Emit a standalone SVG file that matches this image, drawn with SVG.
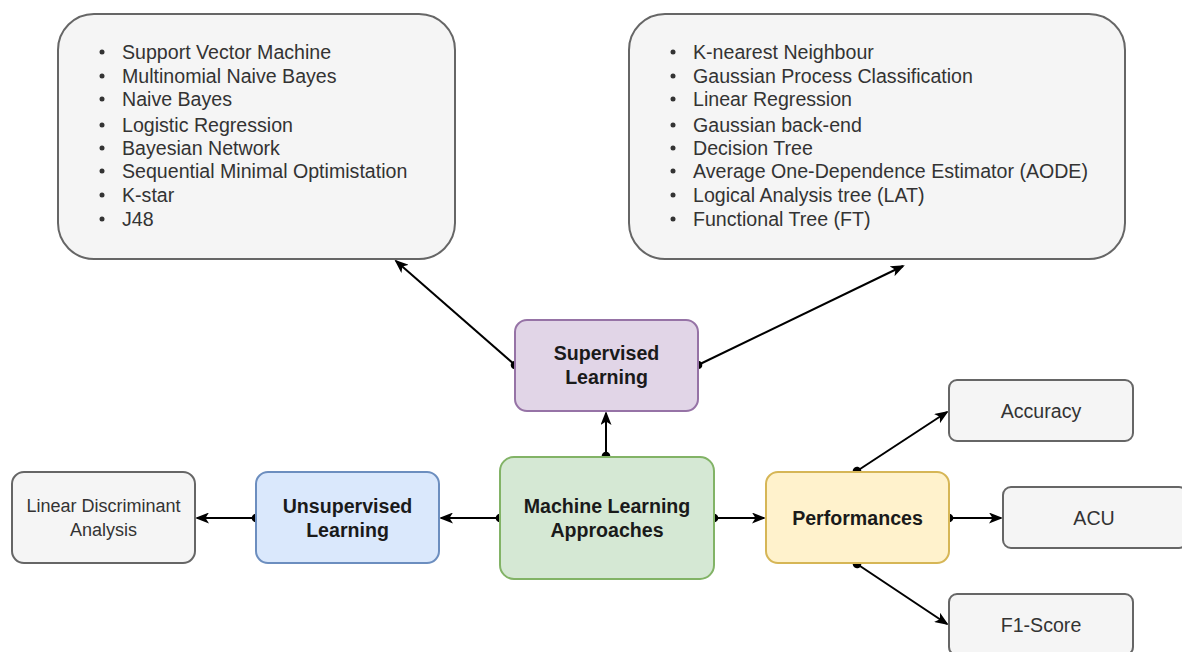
<svg xmlns="http://www.w3.org/2000/svg" width="1182" height="652" viewBox="0 0 1182 652">
<defs>
<style>
.t{font-family:"Liberation Sans",Arial,sans-serif;font-size:19.6px;fill:#333333}
.b{font-family:"Liberation Sans",Arial,sans-serif;font-size:19.6px;font-weight:bold;fill:#1a1a1a;text-anchor:middle}
.c{text-anchor:middle}
.s{font-size:18px}
.grey{fill:#f5f5f5;stroke:#666666;stroke-width:2}
.conn{stroke:#000;stroke-width:2;fill:none;marker-start:url(#dot);marker-end:url(#arr)}
</style>
<marker id="arr" viewBox="0 0 14 11" refX="12" refY="5.5" markerWidth="14" markerHeight="11" markerUnits="userSpaceOnUse" orient="auto">
<path d="M0,0 L14,5.5 L0,11 L3.5,5.5 Z" fill="#000"/>
</marker>
<marker id="dot" viewBox="0 0 10 10" refX="5" refY="5" markerWidth="10" markerHeight="10" markerUnits="userSpaceOnUse" orient="auto">
<circle cx="5" cy="5" r="4.3" fill="#000"/>
</marker>
</defs>
<rect width="1182" height="652" fill="#ffffff"/>
<g id="connectors">
<line class="conn" x1="515" y1="365" x2="396" y2="261"/>
<line class="conn" x1="698" y1="365" x2="903" y2="266"/>
<line class="conn" x1="606" y1="456" x2="606" y2="413"/>
<line class="conn" x1="500" y1="518" x2="441" y2="518"/>
<line class="conn" x1="256" y1="518" x2="197" y2="518"/>
<line class="conn" x1="714" y1="518" x2="764" y2="518"/>
<line class="conn" x1="857" y1="471" x2="947" y2="412"/>
<line class="conn" x1="949" y1="518" x2="1001" y2="518"/>
<line class="conn" x1="857" y1="564" x2="947" y2="624"/>
</g>
<g id="supervised-list-left">
<rect class="grey" x="58" y="14" width="397" height="245" rx="36"/>
<g class="t">
<circle cx="102" cy="52" r="2.5" fill="#333"/><text x="122" y="59">Support Vector Machine</text>
<circle cx="102" cy="76" r="2.5" fill="#333"/><text x="122" y="83">Multinomial Naive Bayes</text>
<circle cx="102" cy="99" r="2.5" fill="#333"/><text x="122" y="106">Naive Bayes</text>
<circle cx="102" cy="125" r="2.5" fill="#333"/><text x="122" y="132">Logistic Regression</text>
<circle cx="102" cy="148" r="2.5" fill="#333"/><text x="122" y="155">Bayesian Network</text>
<circle cx="102" cy="171" r="2.5" fill="#333"/><text x="122" y="178">Sequential Minimal Optimistation</text>
<circle cx="102" cy="195" r="2.5" fill="#333"/><text x="122" y="202">K-star</text>
<circle cx="102" cy="219" r="2.5" fill="#333"/><text x="122" y="226">J48</text>
</g>
</g>
<g id="supervised-list-right">
<rect class="grey" x="629" y="14" width="496" height="245" rx="36"/>
<g class="t">
<circle cx="673" cy="52" r="2.5" fill="#333"/><text x="693" y="59">K-nearest Neighbour</text>
<circle cx="673" cy="76" r="2.5" fill="#333"/><text x="693" y="83">Gaussian Process Classification</text>
<circle cx="673" cy="99" r="2.5" fill="#333"/><text x="693" y="106">Linear Regression</text>
<circle cx="673" cy="125" r="2.5" fill="#333"/><text x="693" y="132">Gaussian back-end</text>
<circle cx="673" cy="148" r="2.5" fill="#333"/><text x="693" y="155">Decision Tree</text>
<circle cx="673" cy="171" r="2.5" fill="#333"/><text x="693" y="178">Average One-Dependence Estimator (AODE)</text>
<circle cx="673" cy="195" r="2.5" fill="#333"/><text x="693" y="202">Logical Analysis tree (LAT)</text>
<circle cx="673" cy="219" r="2.5" fill="#333"/><text x="693" y="226">Functional Tree (FT)</text>
</g>
</g>
<g id="supervised">
<rect x="515" y="320" width="183" height="91" rx="12" fill="#e1d5e7" stroke="#9673a6" stroke-width="2"/>
<text class="b" x="606.5" y="360">Supervised</text>
<text class="b" x="606.5" y="384">Learning</text>
</g>
<g id="ml-approaches">
<rect x="500" y="457" width="214" height="122" rx="14" fill="#d5e8d4" stroke="#82b366" stroke-width="2"/>
<text class="b" x="607" y="513">Machine Learning</text>
<text class="b" x="607" y="537">Approaches</text>
</g>
<g id="unsupervised">
<rect x="256" y="472" width="183" height="91" rx="12" fill="#dae8fc" stroke="#6c8ebf" stroke-width="2"/>
<text class="b" x="347.5" y="513">Unsupervised</text>
<text class="b" x="347.5" y="537">Learning</text>
</g>
<g id="lda">
<rect class="grey" x="12" y="472" width="183" height="91" rx="12"/>
<text class="t c s" x="103.5" y="512">Linear Discriminant</text>
<text class="t c s" x="103.5" y="536">Analysis</text>
</g>
<g id="performances">
<rect x="766" y="472" width="183" height="91" rx="12" fill="#fff2cc" stroke="#d6b656" stroke-width="2"/>
<text class="b" x="857.5" y="525">Performances</text>
</g>
<g id="accuracy">
<rect class="grey" x="949" y="380" width="184" height="61" rx="8"/>
<text class="t c" x="1041" y="418">Accuracy</text>
</g>
<g id="acu">
<rect class="grey" x="1003" y="487" width="184" height="61" rx="8"/>
<text class="t c" x="1094" y="525">ACU</text>
</g>
<g id="f1">
<rect class="grey" x="949" y="594" width="184" height="61" rx="8"/>
<text class="t c" x="1041" y="632">F1-Score</text>
</g>
</svg>
